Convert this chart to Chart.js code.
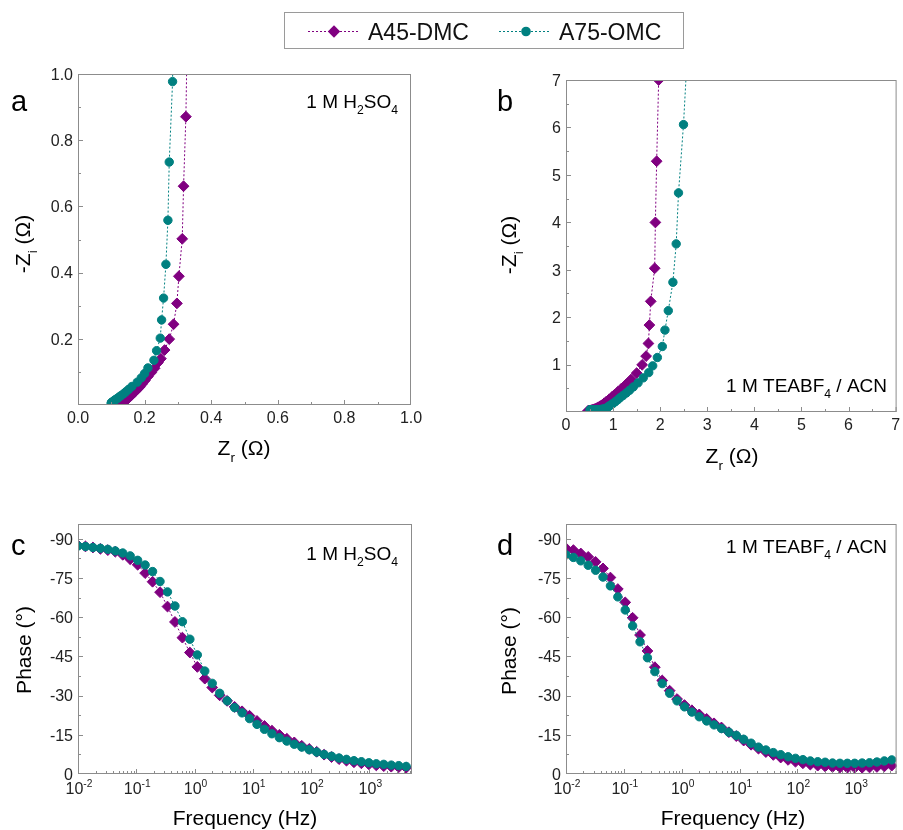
<!DOCTYPE html>
<html>
<head>
<meta charset="utf-8">
<title>EIS comparison</title>
<script src="https://cdn.jsdelivr.net/npm/chart.js@4.4.1/dist/chart.umd.min.js"></script>
<style>
  html, body { margin:0; padding:0; background:#ffffff; }
  #fig { position:relative; width:903px; height:830px; overflow:hidden; background:#ffffff; }
  #fig canvas { position:absolute; left:0; top:0; }
</style>
</head>
<body>
<div id="fig">
  <canvas id="panelA" width="903" height="830"></canvas>
  <canvas id="panelB" width="903" height="830"></canvas>
  <canvas id="panelC" width="903" height="830"></canvas>
  <canvas id="panelD" width="903" height="830"></canvas>
</div>
<script>
// ---------------- DATA ----------------
const seriesNames = ['A45-DMC', 'A75-OMC'];

// Frequencies of the Bode (phase) points, Hz
const freqHz = [0.0100,0.01343,0.01803,0.02421,0.03251,0.04365,0.05861,0.07870,0.1057,0.1419,
  0.1905,0.2559,0.3436,0.4613,0.6194,0.8318,1.117,1.500,2.014,2.704,
  3.631,4.875,6.546,8.790,11.80,15.85,21.28,28.58,38.37,51.52,
  69.18,92.90,124.7,167.5,224.9,302.0,405.5,544.5,731.1,981.7,
  1318,1770,2377,3192,4285];

// Phase (deg), panel c: 1 M H2SO4
const phaseA45_H2SO4 = [-87.5,-87.1,-86.7,-86.2,-85.7,-85.1,-83.9,-82.2,-80.1,-76.9,
  -73.6,-69.6,-64.1,-58.2,-52.2,-46.5,-41.0,-36.5,-33.1,-30.1,
  -28.0,-25.7,-24.0,-22.3,-20.3,-18.4,-16.6,-15.0,-13.5,-12.1,
  -10.8,-9.6,-8.5,-7.4,-6.5,-5.7,-5.1,-4.5,-4.1,-3.7,
  -3.3,-3.0,-2.8,-2.6,-2.4];
const phaseA75_H2SO4 = [-87.3,-87.1,-86.7,-86.4,-86.0,-85.4,-84.6,-83.5,-81.8,-80.0,
  -77.5,-73.7,-69.7,-64.3,-58.3,-51.6,-45.6,-39.4,-34.7,-30.9,
  -28.0,-25.4,-23.4,-21.2,-19.0,-17.1,-15.4,-13.9,-12.6,-11.4,
  -10.3,-9.3,-8.4,-7.5,-6.8,-6.1,-5.6,-5.1,-4.7,-4.3,
  -3.9,-3.7,-3.4,-3.2,-2.9];

// Phase (deg), panel d: 1 M TEABF4 / ACN
const phaseA45_TEA = [-86.4,-85.7,-84.4,-83.1,-81.2,-78.7,-75.2,-70.8,-65.7,-59.8,
  -53.2,-47.1,-40.9,-35.8,-31.9,-28.7,-26.4,-24.4,-22.8,-21.1,
  -19.4,-17.8,-16.0,-14.5,-12.8,-11.2,-9.7,-8.4,-7.3,-6.3,
  -5.4,-4.7,-4.1,-3.6,-3.2,-2.9,-2.7,-2.5,-2.4,-2.4,
  -2.4,-2.5,-2.7,-2.9,-3.2];
const phaseA75_TEA = [-83.9,-82.9,-81.6,-79.9,-78.0,-75.4,-72.0,-67.8,-62.8,-56.7,
  -50.6,-44.5,-39.2,-34.6,-30.9,-28.0,-25.7,-23.7,-21.9,-20.3,
  -18.8,-17.4,-16.0,-14.8,-13.3,-11.8,-10.3,-9.2,-8.2,-7.4,
  -6.6,-6.0,-5.5,-5.0,-4.7,-4.5,-4.2,-4.1,-4.1,-4.1,
  -4.2,-4.3,-4.6,-5.0,-5.4];

// Nyquist, panel a: 1 M H2SO4 (ohm), low frequency -> high frequency
const zrA45_H2SO4 = [0.328,0.324,0.317,0.313,0.303,0.297,0.287,0.274,0.260,0.249,
  0.240,0.230,0.220,0.210,0.201,0.193,0.186,0.179,0.173,0.167,
  0.162,0.158,0.154,0.150,0.147,0.144,0.141,0.139,0.137,0.135,
  0.133,0.131,0.130,0.129,0.128];
const ziA45_H2SO4 = [1.12,0.871,0.661,0.502,0.389,0.307,0.244,0.199,0.166,0.140,
  0.128,0.111,0.098,0.086,0.074,0.064,0.055,0.048,0.042,0.036,
  0.031,0.027,0.023,0.020,0.017,0.014,0.013,0.011,0.010,0.009,
  0.008,0.007,0.006,0.006,0.005];
const zrA75_H2SO4 = [0.288,0.284,0.274,0.270,0.264,0.257,0.251,0.247,0.236,0.228,
  0.210,0.200,0.190,0.178,0.162,0.152,0.144,0.137,0.130,0.125,
  0.121,0.117,0.114,0.111,0.108,0.106,0.105,0.104,0.103,0.102,
  0.102,0.101,0.101,0.100,0.100];
const ziA75_H2SO4 = [1.30,0.977,0.734,0.558,0.425,0.323,0.257,0.202,0.164,0.135,
  0.112,0.095,0.082,0.069,0.056,0.047,0.040,0.034,0.029,0.025,
  0.022,0.019,0.017,0.015,0.013,0.011,0.010,0.009,0.008,0.008,
  0.007,0.007,0.006,0.006,0.005];

// Nyquist, panel b: 1 M TEABF4 / ACN (ohm)
const zrA45_TEA = [2.00,1.968,1.925,1.898,1.883,1.799,1.771,1.750,1.701,1.617,
  1.50,1.38,1.27,1.18,1.10,1.03,0.97,0.91,0.86,0.81,
  0.77,0.73,0.69,0.66,0.62,0.59,0.57,0.55,0.535,0.52,
  0.51,0.505,0.50,0.495,0.49,0.485,0.48,0.478,0.475,0.47];
const ziA45_TEA = [10.0,7.0,5.287,3.997,3.03,2.333,1.833,1.445,1.178,0.994,
  0.82,0.684,0.577,0.496,0.425,0.363,0.311,0.261,0.223,0.184,
  0.152,0.125,0.102,0.084,0.068,0.056,0.047,0.040,0.034,0.029,
  0.026,0.024,0.022,0.021,0.021,0.020,0.021,0.022,0.024,0.026];
const zrA75_TEA = [2.60,2.495,2.389,2.340,2.270,2.172,2.101,2.045,1.940,1.841,
  1.757,1.64,1.53,1.43,1.35,1.28,1.21,1.15,1.10,1.05,
  1.00,0.96,0.93,0.91,0.89,0.87,0.86,0.84,0.81,0.78,
  0.74,0.70,0.66,0.62,0.59,0.56,0.54,0.52,0.51];
const ziA75_TEA = [8.0,6.06,4.62,3.545,2.735,2.136,1.727,1.381,1.149,0.973,
  0.831,0.720,0.615,0.529,0.459,0.401,0.347,0.304,0.260,0.219,
  0.182,0.156,0.134,0.118,0.103,0.091,0.083,0.073,0.066,0.062,
  0.054,0.050,0.048,0.045,0.043,0.042,0.043,0.045,0.048];

// Tick values and labels
const nyqAxTicks = [0, 0.2, 0.4, 0.6, 0.8, 1.0];
const nyqAxLabels = ['0.0', '0.2', '0.4', '0.6', '0.8', '1.0'];
const nyqAyTicks = [0.2, 0.4, 0.6, 0.8, 1.0];
const nyqAyLabels = ['0.2', '0.4', '0.6', '0.8', '1.0'];
const nyqAMinor = [0.1, 0.3, 0.5, 0.7, 0.9];
const nyqBxTicks = [0, 1, 2, 3, 4, 5, 6, 7];
const nyqBxLabels = ['0', '1', '2', '3', '4', '5', '6', '7'];
const nyqByTicks = [1, 2, 3, 4, 5, 6, 7];
const nyqByLabels = ['1', '2', '3', '4', '5', '6', '7'];
const nyqBMinor = [0.5, 1.5, 2.5, 3.5, 4.5, 5.5, 6.5];
const phaseTicks = [0, -15, -30, -45, -60, -75, -90];
const phaseLabels = ['0', '-15', '-30', '-45', '-60', '-75', '-90'];
const phaseMinor = [-7.5, -22.5, -37.5, -52.5, -67.5, -82.5];
const freqTicks = [0.01, 0.1, 1, 10, 100, 1000];
const freqExpLabels = ['-2', '-1', '0', '1', '2', '3'];

// ---------------- STYLE ----------------
const W = 903, H = 830;
const FONT = '"Liberation Sans", Arial, Helvetica, sans-serif';
const PURPLE = '#800080', TEAL = '#008080';
const FRAME = '#8c8c8c';
const TICKTXT = '#222222';
const DIAMOND_R = 5.4, CIRCLE_R = 4.2;

function setFont(ctx, size) { ctx.font = size + 'px ' + FONT; }

// parts: [text, mode] mode 0 normal, 1 subscript, 2 superscript
function drawRich(ctx, parts, x, y, size, align, color) {
  const small = size * 0.64;
  const ws = [];
  let w = 0;
  parts.forEach(([t, m]) => { setFont(ctx, m ? small : size); const ww = ctx.measureText(t).width; ws.push(ww); w += ww; });
  let cx = align === 'center' ? x - w / 2 : (align === 'right' ? x - w : x);
  ctx.fillStyle = color;
  ctx.textAlign = 'left';
  ctx.textBaseline = 'alphabetic';
  parts.forEach(([t, m], i) => {
    setFont(ctx, m ? small : size);
    const dy = m === 1 ? size * 0.32 : (m === 2 ? -size * 0.45 : 0);
    ctx.fillText(t, cx, y + dy);
    cx += ws[i];
  });
}

function logMinor(min, max) {
  const out = [];
  for (let e = -3; e <= 4; e++) {
    for (let k = 2; k <= 9; k++) { const v = k * Math.pow(10, e); if (v > min && v < max) out.push(v); }
  }
  return out;
}

function drawDeco(chart, d) {
  const ctx = chart.ctx, a = chart.chartArea, xs = chart.scales.x, ys = chart.scales.y;
  ctx.save();
  // frame
  ctx.strokeStyle = FRAME;
  ctx.lineWidth = 1;
  ctx.setLineDash([]);
  ctx.strokeRect(a.left + 0.5, a.top + 0.5, a.right - a.left - 1, a.bottom - a.top - 1);
  // inward ticks
  const clampX = p => Math.min(Math.max(p, a.left + 0.5), a.right - 0.5);
  const clampY = p => Math.min(Math.max(p, a.top + 0.5), a.bottom - 0.5);
  ctx.beginPath();
  const xt = (v, len) => { const p = clampX(Math.round(xs.getPixelForValue(v)) + 0.5); ctx.moveTo(p, a.bottom); ctx.lineTo(p, a.bottom - len); };
  const yt = (v, len) => { const p = clampY(Math.round(ys.getPixelForValue(v)) + 0.5); ctx.moveTo(a.left, p); ctx.lineTo(a.left + len, p); };
  d.xMajor.forEach(v => xt(v, 5));
  d.xMinor.forEach(v => xt(v, 3));
  d.yMajor.forEach(v => yt(v, 5));
  d.yMinor.forEach(v => yt(v, 3));
  ctx.stroke();

  // tick labels
  if (d.xLog) {
    d.xMajor.forEach((v, i) => {
      drawRich(ctx, [['10', 0], [d.xLabels[i], 2]], xs.getPixelForValue(v) + 1, a.bottom + 20, 16, 'center', TICKTXT);
    });
  } else {
    setFont(ctx, 16);
    ctx.fillStyle = TICKTXT; ctx.textAlign = 'center'; ctx.textBaseline = 'alphabetic';
    d.xMajor.forEach((v, i) => ctx.fillText(d.xLabels[i], xs.getPixelForValue(v), a.bottom + 18));
  }
  setFont(ctx, 16);
  ctx.fillStyle = TICKTXT; ctx.textAlign = 'right'; ctx.textBaseline = 'alphabetic';
  d.yLabelTicks.forEach((v, i) => ctx.fillText(d.yLabels[i], a.left - 5, ys.getPixelForValue(v) + 5.8));

  // axis titles
  drawRich(ctx, d.xTitle, d.xTitlePos[0], d.xTitlePos[1], 21, 'center', '#000');
  ctx.save();
  ctx.translate(d.yTitlePos[0], d.yTitlePos[1]);
  ctx.rotate(-Math.PI / 2);
  drawRich(ctx, d.yTitle, 0, 0, 21, 'center', '#000');
  ctx.restore();

  // panel letter
  setFont(ctx, 29);
  ctx.fillStyle = '#000'; ctx.textAlign = 'left'; ctx.textBaseline = 'alphabetic';
  ctx.fillText(d.letter[0], d.letter[1], d.letter[2]);

  // annotation
  drawRich(ctx, d.note, d.notePos[0], d.notePos[1], 19, 'right', '#000');

  if (d.legend) drawLegend(ctx);
  ctx.restore();
}

function drawLegend(ctx) {
  ctx.save();
  ctx.strokeStyle = '#9a9a9a'; ctx.lineWidth = 1; ctx.setLineDash([]);
  ctx.strokeRect(284.5, 12.5, 399, 36);
  const items = [
    { name: seriesNames[0], color: PURPLE, x0: 308, x1: 360, mx: 334, tx: 368, style: 'diamond' },
    { name: seriesNames[1], color: TEAL, x0: 499, x1: 551, mx: 526, tx: 559, style: 'circle' }
  ];
  items.forEach(it => {
    ctx.strokeStyle = it.color; ctx.fillStyle = it.color; ctx.lineWidth = 1;
    ctx.setLineDash([2, 2]);
    ctx.beginPath(); ctx.moveTo(it.x0, 31.5); ctx.lineTo(it.x1, 31.5); ctx.stroke();
    ctx.setLineDash([]);
    ctx.beginPath();
    if (it.style === 'diamond') {
      const r = 6.2;
      ctx.moveTo(it.mx - r, 31.5); ctx.lineTo(it.mx, 31.5 - r); ctx.lineTo(it.mx + r, 31.5); ctx.lineTo(it.mx, 31.5 + r); ctx.closePath();
    } else {
      ctx.arc(it.mx, 31.5, 4.8, 0, Math.PI * 2);
    }
    ctx.fill();
    setFont(ctx, 23);
    ctx.fillStyle = '#111'; ctx.textAlign = 'left'; ctx.textBaseline = 'alphabetic';
    ctx.fillText(it.name, it.tx, 40);
  });
  ctx.restore();
}

function series(name, color, style, radius, pts, order) {
  return {
    label: name, data: pts, showLine: true,
    borderColor: color, backgroundColor: color, borderWidth: 1, borderDash: [2, 2],
    pointStyle: style, pointRadius: radius, pointBorderWidth: 1,
    pointBackgroundColor: color, pointBorderColor: color,
    clip: 0, order: order
  };
}
const xy = (xs, ys) => xs.map((x, i) => ({ x: x, y: ys[i] }));

function hiddenAxis(extra) {
  return Object.assign({
    display: true,
    ticks: { display: false },
    grid: { display: false, drawTicks: false },
    border: { display: false },
    title: { display: false }
  }, extra);
}

function buildChart(id, spec) {
  const [l, t, r, b] = spec.area;
  return new Chart(document.getElementById(id), {
    type: 'scatter',
    data: { datasets: spec.datasets },
    options: {
      responsive: false, animation: false, events: [],
      layout: { padding: { left: l, top: t, right: W - r, bottom: H - b } },
      plugins: { legend: { display: false }, tooltip: { enabled: false } },
      scales: { x: hiddenAxis(spec.x), y: hiddenAxis(spec.y) }
    },
    plugins: [{ id: 'deco' + id, afterDraw: c => drawDeco(c, spec.deco) }]
  });
}

const zTitleX = [['Z', 0], ['r', 1], [' (\u03A9)', 0]];
const zTitleY = [['-Z', 0], ['i', 1], [' (\u03A9)', 0]];
const noteH2SO4 = [['1 M H', 0], ['2', 1], ['SO', 0], ['4', 1]];
const noteTEA = [['1 M TEABF', 0], ['4', 1], [' / ACN', 0]];
const phaseTitle = [['Phase (\u00B0)', 0]];
const freqTitle = [['Frequency (Hz)', 0]];

// Panel a
buildChart('panelA', {
  area: [78, 74, 411, 405],
  x: { type: 'linear', min: 0, max: 1.0 },
  y: { type: 'linear', min: 0, max: 1.0 },
  datasets: [
    series(seriesNames[0], PURPLE, 'rectRot', DIAMOND_R, xy(zrA45_H2SO4, ziA45_H2SO4), 2),
    series(seriesNames[1], TEAL, 'circle', CIRCLE_R, xy(zrA75_H2SO4, ziA75_H2SO4), 1)
  ],
  deco: {
    xMajor: nyqAxTicks, xLabels: nyqAxLabels, xMinor: nyqAMinor, xLog: false,
    yMajor: [0].concat(nyqAyTicks), yMinor: nyqAMinor, yLabelTicks: nyqAyTicks, yLabels: nyqAyLabels,
    xTitle: zTitleX, xTitlePos: [244, 455], yTitle: zTitleY, yTitlePos: [30, 244],
    letter: ['a', 11, 111], note: noteH2SO4, notePos: [398, 108], legend: true
  }
});

// Panel b
buildChart('panelB', {
  area: [566, 80, 899, 412],
  x: { type: 'linear', min: 0, max: 7.02 },
  y: { type: 'linear', min: 0, max: 7.0 },
  datasets: [
    series(seriesNames[0], PURPLE, 'rectRot', DIAMOND_R, xy(zrA45_TEA, ziA45_TEA), 2),
    series(seriesNames[1], TEAL, 'circle', CIRCLE_R, xy(zrA75_TEA, ziA75_TEA), 1)
  ],
  deco: {
    xMajor: nyqBxTicks, xLabels: nyqBxLabels, xMinor: nyqBMinor, xLog: false,
    yMajor: [0].concat(nyqByTicks), yMinor: nyqBMinor, yLabelTicks: nyqByTicks, yLabels: nyqByLabels,
    xTitle: zTitleX, xTitlePos: [732, 463], yTitle: zTitleY, yTitlePos: [516, 245],
    letter: ['b', 497, 111], note: noteTEA, notePos: [887, 392], legend: false
  }
});

// Panel c
buildChart('panelC', {
  area: [78, 524, 412, 774],
  x: { type: 'logarithmic', min: 0.01, max: 5400 },
  y: { type: 'linear', min: -95.7, max: 0, reverse: true },
  datasets: [
    series(seriesNames[0], PURPLE, 'rectRot', DIAMOND_R, xy(freqHz, phaseA45_H2SO4), 2),
    series(seriesNames[1], TEAL, 'circle', CIRCLE_R, xy(freqHz, phaseA75_H2SO4), 1)
  ],
  deco: {
    xMajor: freqTicks, xLabels: freqExpLabels, xMinor: logMinor(0.01, 5400), xLog: true,
    yMajor: phaseTicks, yMinor: phaseMinor, yLabelTicks: phaseTicks, yLabels: phaseLabels,
    xTitle: freqTitle, xTitlePos: [245, 825], yTitle: phaseTitle, yTitlePos: [31, 650],
    letter: ['c', 11, 555], note: noteH2SO4, notePos: [398, 560], legend: false
  }
});

// Panel d
buildChart('panelD', {
  area: [566, 524, 899, 774],
  x: { type: 'logarithmic', min: 0.01, max: 5200 },
  y: { type: 'linear', min: -95.7, max: 0, reverse: true },
  datasets: [
    series(seriesNames[0], PURPLE, 'rectRot', DIAMOND_R, xy(freqHz, phaseA45_TEA), 2),
    series(seriesNames[1], TEAL, 'circle', CIRCLE_R, xy(freqHz, phaseA75_TEA), 1)
  ],
  deco: {
    xMajor: freqTicks, xLabels: freqExpLabels, xMinor: logMinor(0.01, 5200), xLog: true,
    yMajor: phaseTicks, yMinor: phaseMinor, yLabelTicks: phaseTicks, yLabels: phaseLabels,
    xTitle: freqTitle, xTitlePos: [733, 825], yTitle: phaseTitle, yTitlePos: [516, 651],
    letter: ['d', 497, 555], note: noteTEA, notePos: [887, 553], legend: false
  }
});
</script>
</body>
</html>
